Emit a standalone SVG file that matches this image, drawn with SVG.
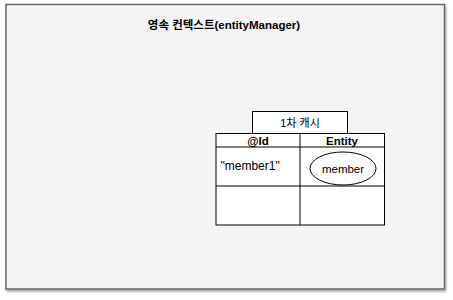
<svg xmlns="http://www.w3.org/2000/svg" width="453" height="300" viewBox="0 0 453 300">
<style>
text{font-family:"Liberation Sans","Noto Sans CJK KR",sans-serif;fill:#000}
.b{font-weight:bold}
.ln{stroke:#000;stroke-width:1;fill:none}
.cell{fill:#fff;stroke:#000;stroke-width:1}
</style>
<defs>
<filter id="sh" x="-5%" y="-5%" width="110%" height="110%">
<feDropShadow dx="1" dy="2" stdDeviation="1.2" flood-color="#000" flood-opacity="0.35"/>
</filter>
</defs>
<g id="context">
<rect x="6" y="4.5" width="438.5" height="284.5" fill="#f4f4f4" stroke="#666" stroke-width="1.5" filter="url(#sh)"/>
<text class="b" x="224" y="29" font-size="11.5" text-anchor="middle">영속 컨텍스트(entityManager)</text>
</g>
<g id="cache-label">
<rect class="cell" x="252.5" y="111.5" width="95" height="22"/>
<text x="300" y="126.5" font-size="11" text-anchor="middle">1차 캐시</text>
</g>
<g id="table">
<rect class="cell" x="216" y="133.5" width="168.5" height="91.5"/>
<line class="ln" x1="216" y1="147" x2="384.5" y2="147" stroke-width="1.3"/>
<line class="ln" x1="216" y1="186" x2="384.5" y2="186"/>
<line class="ln" x1="300" y1="133.5" x2="300" y2="225" stroke="#555" stroke-width="1.5"/>
<text class="b" x="258" y="144.5" font-size="11.5" text-anchor="middle">@Id</text>
<text class="b" x="342" y="144.5" font-size="11.5" text-anchor="middle">Entity</text>
<text x="220.5" y="170" font-size="12">"member1"</text>
</g>
<g id="member">
<ellipse cx="343" cy="168.5" rx="33" ry="16.5" fill="#fff" stroke="#000" stroke-width="1"/>
<text x="343" y="172.5" font-size="11.5" text-anchor="middle">member</text>
</g>
<g id="connectors"></g>
</svg>
